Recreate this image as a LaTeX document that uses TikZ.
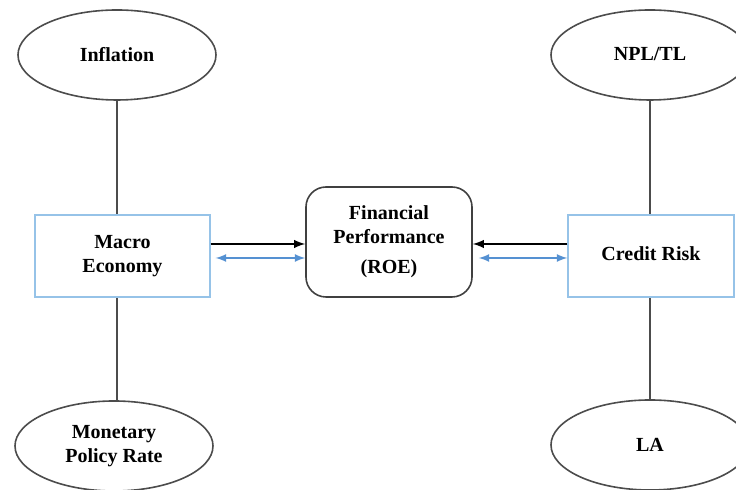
\documentclass[tikz,border=0pt]{standalone}
\usepackage{fontspec}
\setmainfont{Liberation Serif}
\usetikzlibrary{shapes,
                arrows,
                positioning}
\definecolor{boxblue}{RGB}{150,195,232}
\definecolor{arrowblue}{RGB}{85,145,210}
\tikzset{factor/.style=
   {ellipse,
    draw=black!70,
    line width=0.8pt,
    text centered,
    align=center,
    font=\bfseries,
    minimum width=99pt,
    minimum height=45pt}}
\tikzset{group/.style=
   {rectangle,
    draw=boxblue,
    line width=0.7pt,
    text centered,
    align=center,
    font=\bfseries,
    minimum height=41pt}}
\tikzset{outcome/.style=
   {rectangle,
    draw=black!75,
    line width=0.8pt,
    rounded corners=10pt,
    text centered,
    align=center,
    font=\bfseries,
    minimum width=83pt,
    minimum height=55pt}}
\tikzset{link/.style = {draw=black!70, line width=0.7pt}}
\tikzset{arrow/.style = {draw, line width=0.9pt, -latex}}
\tikzset{twoway/.style = {draw=arrowblue, line width=0.8pt, latex-latex}}

\begin{document}
\begin{tikzpicture}[x=0.5pt,y=-0.5pt,font=\fontsize{10.5}{11.5}\selectfont]

    \useasboundingbox (0,0) rectangle (736,490);
    \clip (0,0) rectangle (736,490);

    % middle row
    \node [outcome] (perf) at (389,242)
    {Financial\\Performance\\[3pt](ROE)};

    \node [group,
           minimum width=87.5pt] (macro) at (122.5,256)
    {Macro\\Economy};

    \node [group,
           minimum width=83pt] (credit) at (651,256)
    {\raisebox{2pt}{Credit Risk}};

    % drivers
    \node [factor] (infl) at (117,55) {\raisebox{1pt}{Inflation}};
    \node [factor] (mpr) at (114,446) {Monetary\\Policy Rate};
    \node [factor] (npl) at (650,55) {\raisebox{1pt}{NPL/TL}};
    \node [factor] (la) at (650,445) {LA};

    \draw [link] (infl) -- (infl |- macro.north);
    \draw [link] (mpr.north -| infl) -- (infl |- macro.south);
    \draw [link] (npl) -- (npl |- credit.north);
    \draw [link] (la) -- (npl |- credit.south);

    % links to performance
    \draw [arrow] ([yshift=6pt]macro.east) -- ([yshift=6pt]macro.east -| perf.west);
    \draw [arrow] ([yshift=6pt]credit.west) -- ([yshift=6pt]credit.west -| perf.east);
    \draw [twoway, shorten <=2.5pt] ([yshift=-1pt]macro.east) -- ([yshift=-1pt]macro.east -| perf.west);
    \draw [twoway, shorten <=3pt] ([yshift=-1pt]perf.east |- credit.west) -- ([yshift=-1pt]credit.west);

\end{tikzpicture}
\end{document}
